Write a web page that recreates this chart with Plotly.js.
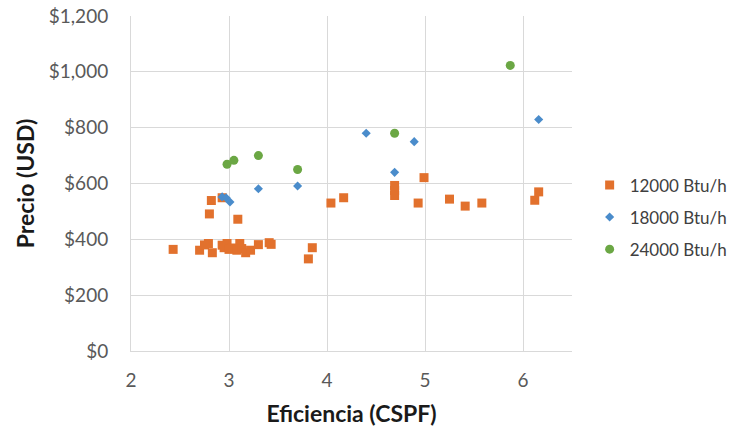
<!DOCTYPE html>
<html>
<head>
<meta charset="utf-8">
<script src="https://cdn.plot.ly/plotly-3.0.1.min.js"></script>
<style>html,body{margin:0;padding:0;background:#fff}#chart{width:733px;height:429px}</style>
</head>
<body>
<div id="chart"></div>
<script>
// 12000 Btu/h
const x12000 = [2.43, 2.70, 2.75, 2.79, 2.83, 2.80, 2.82, 2.93, 2.95, 2.98, 3.00, 3.03, 3.08, 3.11, 3.13, 3.17, 3.22, 3.30, 3.41, 3.43, 3.81, 3.85, 2.93, 3.09, 4.04, 4.17, 4.69, 4.69, 4.69, 4.93, 4.99, 5.25, 5.41, 5.58, 6.12, 6.16];
const y12000 = [364, 361, 380, 385, 352, 491, 539, 379, 370, 385, 364, 369, 361, 385, 367, 352, 361, 381, 388, 382, 330, 370, 549, 472, 530, 549, 593, 575, 557, 530, 621, 544, 519, 530, 540, 570];
// 18000 Btu/h
const x18000 = [2.93, 2.97, 3.01, 3.30, 3.70, 4.40, 4.69, 4.89, 6.16];
const y18000 = [552, 549, 534, 581, 591, 780, 640, 750, 829];
// 24000 Btu/h
const x24000 = [2.98, 3.05, 3.30, 3.70, 4.69, 5.87];
const y24000 = [669, 683, 700, 650, 780, 1023];

const seriesNames = ["12000 Btu/h", "18000 Btu/h", "24000 Btu/h"];
const xTicks = [2, 3, 4, 5, 6];
const yTicks = [0, 200, 400, 600, 800, 1000, 1200];
const yTickText = ["$0", "$200", "$400", "$600", "$800", "$1,000", "$1,200"];

const FONT = "Lato, 'Open Sans', sans-serif";

const traces = [
  {x: x12000, y: y12000, name: seriesNames[0], legendgroup: "a", type: "scatter", mode: "markers",
   marker: {symbol: "square", size: 9, color: "#E2712D"}},
  {x: x18000, y: y18000, name: seriesNames[1], legendgroup: "b", type: "scatter", mode: "markers",
   marker: {symbol: "diamond", size: 7, color: "#4A8CCB"}},
  {x: x24000, y: y24000, name: seriesNames[2], legendgroup: "c", type: "scatter", mode: "markers",
   marker: {symbol: "circle", size: 9, color: "#6BA744"}}
];

const layout = {
  width: 733, height: 429,
  margin: {l: 131, r: 161, t: 16, b: 78, autoexpand: false},
  paper_bgcolor: "#fff", plot_bgcolor: "#fff",
  font: {family: FONT, size: 19, color: "#595959"},
  showlegend: true,
  legend: {x: 1.04, y: 0.548, xanchor: "left", yanchor: "top",
           font: {family: FONT, size: 17, color: "#404040"},
           itemsizing: "trace", itemwidth: 30, tracegroupgap: 7, bgcolor: "rgba(0,0,0,0)"},
  xaxis: {
    range: [2, 6.5], tickvals: xTicks, ticktext: xTicks.map(String),
    showgrid: true, gridcolor: "#d9d9d9", gridwidth: 1,
    zeroline: false, showline: true, linecolor: "#d9d9d9", linewidth: 1,
    ticks: "", ticklabelstandoff: 12, tickfont: {family: FONT, size: 19, color: "#595959"},
    title: {text: "Eficiencia (CSPF)", font: {family: FONT, size: 23, color: "#1a1a1a", weight: "bold"}, standoff: 16}
  },
  yaxis: {
    range: [0, 1200], tickvals: yTicks, ticktext: yTickText,
    showgrid: true, gridcolor: "#d9d9d9", gridwidth: 1,
    zeroline: false, showline: true, linecolor: "#d9d9d9", linewidth: 1,
    ticks: "", ticklabelstandoff: 18, tickfont: {family: FONT, size: 19, color: "#595959"},
    title: {text: "Precio (USD)", font: {family: FONT, size: 23, color: "#1a1a1a", weight: "bold"}, standoff: 7}
  }
};

Plotly.newPlot("chart", traces, layout, {displayModeBar: false, staticPlot: true});
</script>
</body>
</html>
